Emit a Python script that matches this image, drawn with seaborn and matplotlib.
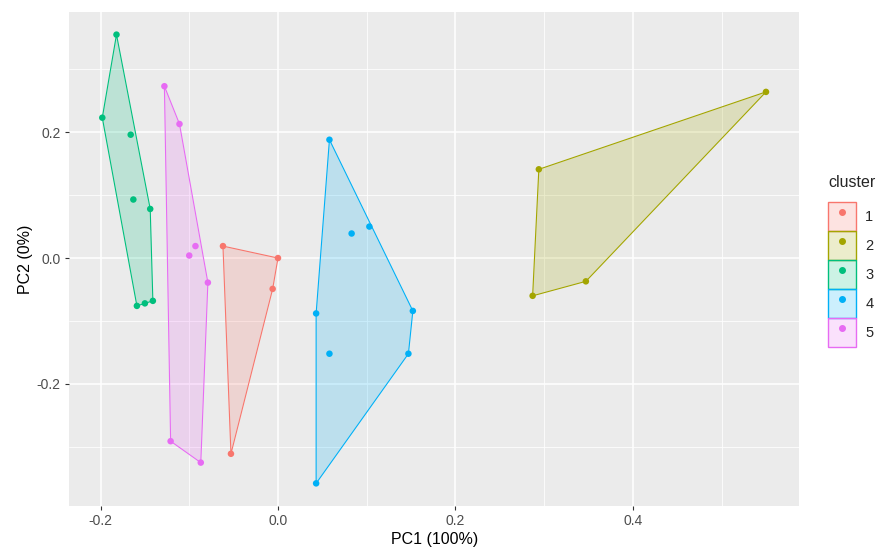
import numpy as np
import pandas as pd
import matplotlib
matplotlib.use("Agg")
import matplotlib.pyplot as plt
import seaborn as sns
from matplotlib.patches import Patch
from matplotlib.lines import Line2D

# PCA scores, one list per cluster
c1_x = [-0.062, 0.000, -0.006, -0.053]
c1_y = [0.019, 0.000, -0.049, -0.311]
c2_x = [0.550, 0.294, 0.287, 0.347]
c2_y = [0.264, 0.141, -0.060, -0.037]
c3_x = [-0.182, -0.198, -0.166, -0.163, -0.144, -0.159, -0.150, -0.141]
c3_y = [0.355, 0.223, 0.196, 0.093, 0.078, -0.076, -0.072, -0.068]
c4_x = [0.058, 0.083, 0.103, 0.152, 0.147, 0.043, 0.058, 0.043]
c4_y = [0.188, 0.039, 0.050, -0.084, -0.152, -0.088, -0.152, -0.358]
c5_x = [-0.128, -0.111, -0.093, -0.100, -0.079, -0.121, -0.087]
c5_y = [0.273, 0.213, 0.019, 0.004, -0.039, -0.291, -0.325]

clusters = ["1", "2", "3", "4", "5"]
palette = ["#F8766D", "#A3A500", "#00BF7D", "#00B0F6", "#E76BF3"]

xs = [c1_x, c2_x, c3_x, c4_x, c5_x]
ys = [c1_y, c2_y, c3_y, c4_y, c5_y]
df = pd.concat([pd.DataFrame({"PC1": x, "PC2": y, "cluster": c})
                for x, y, c in zip(xs, ys, clusters)], ignore_index=True)


def hull(pts):
    # monotone chain convex hull
    pts = sorted(set(map(tuple, pts)))
    def cross(o, a, b):
        return (a[0]-o[0])*(b[1]-o[1]) - (a[1]-o[1])*(b[0]-o[0])
    lower, upper = [], []
    for p in pts:
        while len(lower) >= 2 and cross(lower[-2], lower[-1], p) <= 0:
            lower.pop()
        lower.append(p)
    for p in reversed(pts):
        while len(upper) >= 2 and cross(upper[-2], upper[-1], p) <= 0:
            upper.pop()
        upper.append(p)
    return np.array(lower[:-1] + upper[:-1])


sns.set_theme(style="darkgrid", rc={
    "axes.facecolor": "#EBEBEB",
    "grid.color": "white",
    "axes.edgecolor": "#EBEBEB",
    "xtick.color": "#333333",
    "ytick.color": "#333333",
    "xtick.labelcolor": "#4D4D4D",
    "ytick.labelcolor": "#4D4D4D",
})
plt.rcParams["font.family"] = ["Liberation Sans", "DejaVu Sans"]

fig = plt.figure(figsize=(8.86, 5.54), dpi=100)
ax = fig.add_axes([0.078, 0.087, 0.824, 0.891])

for c, col in zip(clusters, palette):
    sub = df[df["cluster"] == c]
    h = hull(sub[["PC1", "PC2"]].values)
    ax.fill(h[:, 0], h[:, 1], facecolor=col, alpha=0.2, zorder=2)
    ax.fill(h[:, 0], h[:, 1], facecolor="none", edgecolor=col, lw=0.8, zorder=3)

sns.scatterplot(data=df, x="PC1", y="PC2", hue="cluster", palette=palette,
                s=22, edgecolor="none", linewidth=0, ax=ax, legend=False, zorder=4)

# ggplot-like expansion of 5%
xmin, xmax = df["PC1"].min(), df["PC1"].max()
ymin, ymax = df["PC2"].min(), df["PC2"].max()
ax.set_xlim(xmin - 0.05 * (xmax - xmin), xmax + 0.05 * (xmax - xmin))
ax.set_ylim(ymin - 0.05 * (ymax - ymin), ymax + 0.05 * (ymax - ymin))

ax.set_xticks([-0.2, 0.0, 0.2, 0.4])
ax.set_xticklabels(["-0.2", "0.0", "0.2", "0.4"])
ax.set_yticks([-0.2, 0.0, 0.2])
ax.set_yticklabels(["-0.2", "0.0", "0.2"])
ax.set_xticks([-0.1, 0.1, 0.3, 0.5], minor=True)
ax.set_yticks([-0.3, -0.1, 0.1, 0.3], minor=True)
ax.grid(which="major", color="white", lw=1.1)
ax.grid(which="minor", color="white", lw=0.55)
ax.tick_params(which="major", length=3, width=0.8, labelsize=10, pad=3,
               bottom=True, left=True)
ax.tick_params(which="minor", length=0)
for s in ax.spines.values():
    s.set_visible(False)
ax.set_xlabel("PC1 (100%)", fontsize=11.5, color="black", labelpad=3)
ax.set_ylabel("PC2 (0%)", fontsize=11.5, color="black", labelpad=3)

handles = [(Patch(facecolor=col, alpha=0.2, edgecolor="none"),
            Patch(facecolor="none", edgecolor=col, lw=1.0),
            Line2D([], [], marker="o", ls="none", color=col, markersize=4))
           for col in palette]
leg = fig.legend(handles, clusters, title="cluster", loc="center left",
                 bbox_to_anchor=(0.935, 0.529), frameon=False, fontsize=10.5,
                 title_fontsize=11.5, handlelength=1.92, handleheight=2.68,
                 handletextpad=0.6, labelspacing=0.0, borderaxespad=0,
                 borderpad=0)
leg._legend_box.align = "left"
leg._legend_box.sep = 9

fig.savefig("out.png", dpi=100)
